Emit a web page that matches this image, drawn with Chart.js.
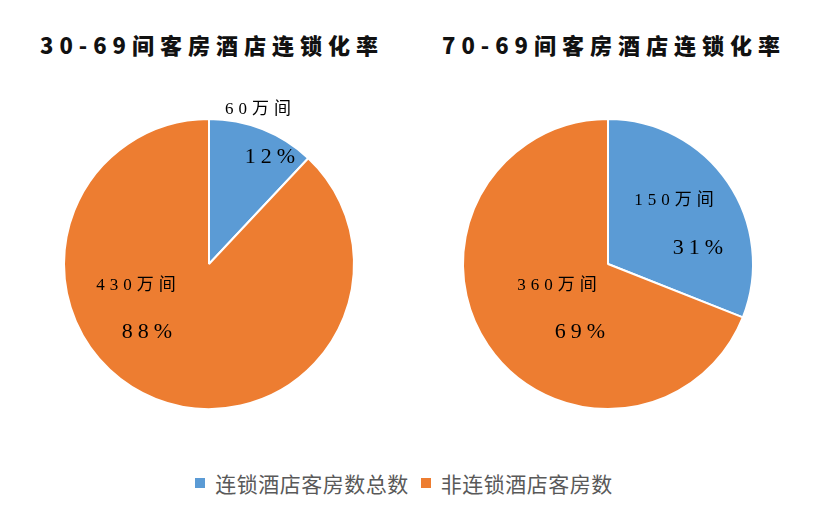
<!DOCTYPE html>
<html>
<head>
<meta charset="utf-8">
<script src="https://cdn.jsdelivr.net/npm/chart.js@4"></script>
<style>
  body { margin: 0; width: 820px; height: 510px; background: #fff; position: relative; overflow: hidden; }
  .title {
    position: absolute; top: 28px; text-align: center;
    font: 900 22px 'Noto Sans CJK SC', sans-serif; letter-spacing: 6px; color: #111;
  }
  .box { position: absolute; top: 94px; width: 400px; height: 340px; }
  #legend {
    position: absolute; top: 468px; left: 0; width: 820px;
    display: flex; justify-content: center; align-items: center;
    font: 21px 'Noto Sans CJK SC', sans-serif; color: #595959; letter-spacing: 0.5px;
  }
  #legend span.sw { display: inline-block; width: 10px; height: 10px; margin-right: 10px; }
  #legend span.item { display: flex; align-items: center; margin-right: 12px; }
</style>
</head>
<body>
<div class="title" id="title0" style="left:0;width:424px;"></div>
<div class="title" id="title1" style="left:402px;width:424px;"></div>
<div class="box" style="left:9px;"><canvas id="pie0"></canvas></div>
<div class="box" style="left:408px;"><canvas id="pie1"></canvas></div>
<div id="legend"></div>
<script>
// Chart data
const categories = ['连锁酒店客房数总数', '非连锁酒店客房数'];
const chartTitles = ['30-69间客房酒店连锁化率', '70-69间客房酒店连锁化率'];
const shareSmall = [12, 88];   // percent
const shareLarge = [31, 69];
const roomsSmall = [60, 430];  // 万间
const roomsLarge = [150, 360];

const colors = ['#5B9BD5', '#ED7D31'];

// where each slice's two labels sit, relative to the pie centre
const labelSpots = [
    [[{ dx: 49, dy: -154 }, { dx: 61, dy: -107 }], [{ dx: -73, dy: 22 }, { dx: -62, dy: 68 }]],
    [[{ dx: 66, dy: -63 }, { dx: 90, dy: -16 }], [{ dx: -51, dy: 22 }, { dx: -28, dy: 68 }]]
];

// draw text centred with letter spacing
function spacedText(ctx, text, x, y, spacing) {
    ctx.letterSpacing = spacing + 'px';
    const w = ctx.measureText(text).width - spacing;
    ctx.textAlign = 'left';
    ctx.fillText(text, x - w / 2, y);
}

const sliceLabels = {
    id: 'sliceLabels',
    afterDatasetsDraw(chart, args, opts) {
        const ctx = chart.ctx;
        const arcs = chart.getDatasetMeta(0).data;
        ctx.save();
        ctx.fillStyle = '#000';
        ctx.textBaseline = 'middle';
        arcs.forEach((arc, i) => {
            const spot = opts.spots[i];
            ctx.font = "17px 'Liberation Serif', 'Noto Sans CJK SC', serif";
            spacedText(ctx, opts.rooms[i] + '万间', arc.x + spot[0].dx, arc.y + spot[0].dy, 5);
            ctx.font = "22px 'Liberation Serif', serif";
            spacedText(ctx, opts.shares[i] + '%', arc.x + spot[1].dx, arc.y + spot[1].dy, 5);
        });
        ctx.restore();
    }
};

function makePie(id, shares, rooms, spots) {
    return new Chart(document.getElementById(id), {
        type: 'pie',
        data: {
            labels: categories,
            datasets: [{
                data: shares,
                backgroundColor: colors,
                borderColor: '#fff',
                borderWidth: 2
            }]
        },
        options: {
            responsive: true,
            maintainAspectRatio: false,
            animation: false,
            layout: { padding: { top: 24, bottom: 24 } },
            plugins: {
                legend: { display: false },
                tooltip: { enabled: false },
                sliceLabels: { shares: shares, rooms: rooms, spots: spots }
            }
        },
        plugins: [sliceLabels]
    });
}

chartTitles.forEach((t, i) => { document.getElementById('title' + i).textContent = t; });
makePie('pie0', shareSmall, roomsSmall, labelSpots[0]);
makePie('pie1', shareLarge, roomsLarge, labelSpots[1]);

// shared legend
const legend = document.getElementById('legend');
categories.forEach((name, i) => {
    const item = document.createElement('span');
    item.className = 'item';
    item.innerHTML = `<span class="sw" style="background:${colors[i]}"></span>${name}`;
    legend.appendChild(item);
});
</script>
</body>
</html>
